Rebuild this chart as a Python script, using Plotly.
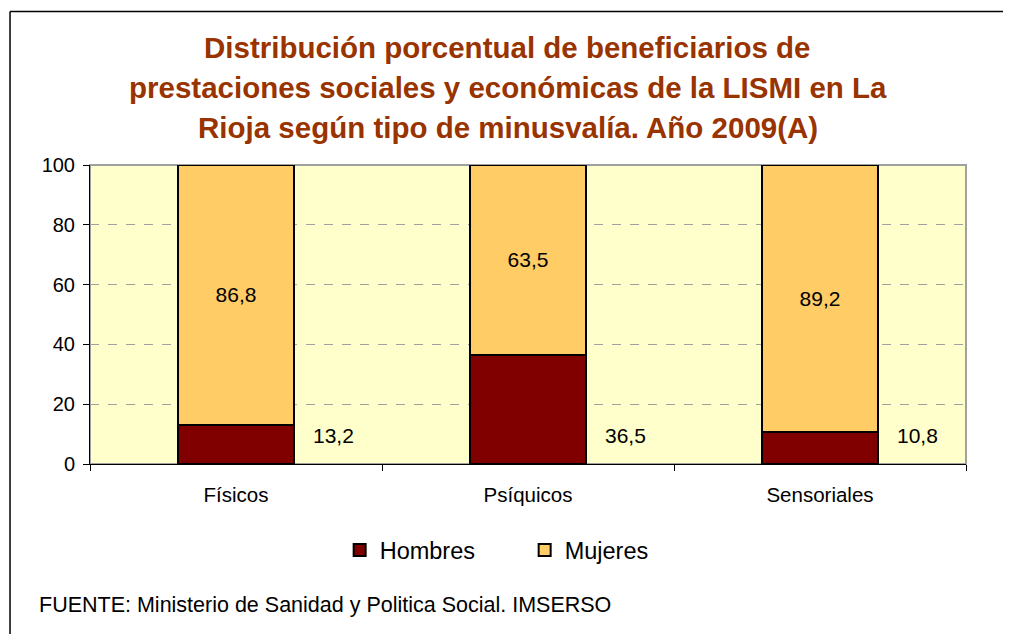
import plotly.graph_objects as go

# Data
categorias = ["Físicos", "Psíquicos", "Sensoriales"]
hombres = [13.2, 36.5, 10.8]
mujeres = [86.8, 63.5, 89.2]
etiqueta_hombres_y = 9.5

titulo = [
    "Distribución porcentual de beneficiarios de",
    "prestaciones sociales y económicas de la LISMI en La",
    "Rioja según tipo de minusvalía. Año 2009(A)",
]
fuente = "FUENTE: Ministerio de Sanidad y Politica Social. IMSERSO"


def fmt(v):
    return f"{v:.1f}".replace(".", ",")


FONT = "Liberation Sans, Arial, sans-serif"

fig = go.Figure()

fig.add_trace(go.Bar(
    name="Hombres",
    x=categorias,
    y=hombres,
    width=0.4,
    marker=dict(color="#800000", line=dict(color="#000000", width=2)),
))

fig.add_trace(go.Bar(
    name="Mujeres",
    x=categorias,
    y=mujeres,
    width=0.4,
    text=[fmt(v) for v in mujeres],
    textposition="inside",
    insidetextanchor="middle",
    textfont=dict(family=FONT, size=21, color="#000000"),
    marker=dict(color="#FFCC66", line=dict(color="#000000", width=2)),
))

# labels for Hombres, to the right of each bar
for cat, v in zip(categorias, hombres):
    fig.add_annotation(
        x=cat, y=etiqueta_hombres_y, xref="x", yref="y",
        text=fmt(v), showarrow=False, xshift=97,
        font=dict(family=FONT, size=21, color="#000000"),
    )

# title lines
for i, line in enumerate(titulo):
    fig.add_annotation(
        x=0.477, y=1.394 - i * 0.1338, xref="paper", yref="paper",
        text=f"<b>{line}</b>", showarrow=False,
        xanchor="center", yanchor="middle",
        font=dict(family=FONT, size=29.5, color="#993300"),
    )

# source note
fig.add_annotation(
    x=-0.061, y=-0.47, xref="paper", yref="paper",
    text=fuente, showarrow=False, xanchor="left", yanchor="middle",
    font=dict(family=FONT, size=21.5, color="#000000"),
)

# plot area border
fig.add_shape(type="rect", xref="paper", yref="paper",
              x0=0, x1=1, y0=0, y1=1,
              line=dict(color="#A0A0A0", width=2), layer="below")
# outer frame (only the top and left edges fall inside the picture)
fig.add_shape(type="line", xref="paper", yref="paper",
              x0=-0.0913, x1=1.2, y0=1.513, y1=1.513,
              line=dict(color="#000000", width=1.5))
fig.add_shape(type="line", xref="paper", yref="paper",
              x0=-0.0913, x1=-0.0913, y0=-0.7, y1=1.513,
              line=dict(color="#000000", width=1.5))

# page body has an 8px margin: keep the figure inside the window
fig.update_layout(
    barmode="stack",
    width=995,
    height=626,
    margin=dict(l=82, r=37, t=157, b=170),
    paper_bgcolor="#FFFFFF",
    plot_bgcolor="#FFFFCC",
    font=dict(family=FONT, size=20, color="#000000"),
    showlegend=True,
    legend=dict(
        orientation="h", traceorder="normal",
        x=0.285, y=-0.288, xanchor="left", yanchor="middle",
        font=dict(family=FONT, size=23.5, color="#000000"),
        entrywidth=140, entrywidthmode="pixels",
        itemwidth=30,
    ),
    xaxis=dict(
        showline=True, linecolor="#000000", linewidth=1,
        ticks="outside", ticklen=6, tickcolor="#000000",
        tickson="boundaries",
        tickfont=dict(size=20.5),
        ticklabelstandoff=12,
        showgrid=False,
    ),
    yaxis=dict(
        range=[0, 100],
        tickvals=[0, 20, 40, 60, 80, 100],
        showline=True, linecolor="#000000", linewidth=1,
        ticks="outside", ticklen=6, tickcolor="#000000",
        tickfont=dict(size=20),
        ticklabelstandoff=4,
        showgrid=True, gridcolor="#A0A0A0", griddash="dash", gridwidth=1,
        zeroline=False,
    ),
)

fig.write_html("out.html", post_script="document.body.style.overflow='hidden';")
